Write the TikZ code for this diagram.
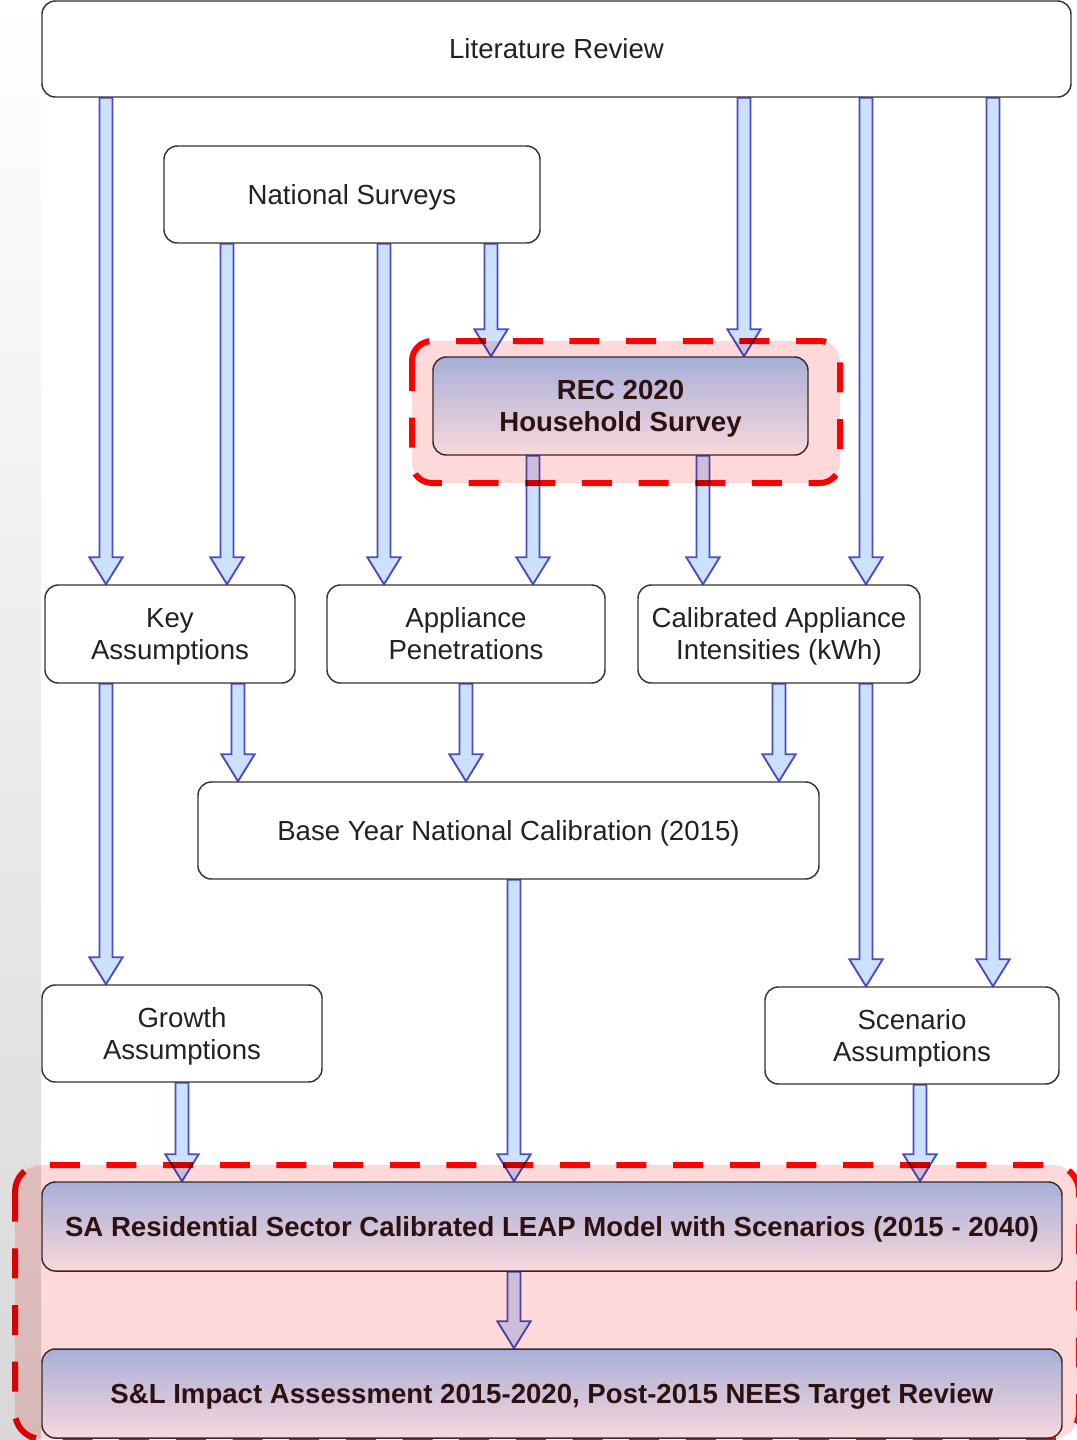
\documentclass[tikz,border=0pt]{standalone}
\usepackage{fontspec}
\setmainfont{Liberation Sans}
\usetikzlibrary{calc}
\definecolor{arrfill}{HTML}{CCE0FF}
\definecolor{arrdraw}{HTML}{4B4BC8}
\definecolor{boxline}{HTML}{333333}
\definecolor{txt}{HTML}{222222}
\definecolor{gtop}{HTML}{A7AFD8}
\definecolor{gbot}{HTML}{F9D8DC}
\definecolor{gline}{HTML}{3A2828}
\definecolor{gtxt}{HTML}{2E1010}
\definecolor{regfill}{HTML}{FFD9D9}
\definecolor{regline}{HTML}{FF0000}
\definecolor{leftgray}{HTML}{D8D8D8}
\pgfdeclarelayer{bglayer}
\pgfdeclarelayer{arrlayer}
\pgfdeclarelayer{reglayer}
\pgfsetlayers{bglayer,arrlayer,reglayer,main}
% line strut with the font's ascent/descent
\newcommand\lnstrut{\rule[-0.212em]{0pt}{1.117em}}
% #1 = x position (px), #2 = source node, #3 = target node
\newcommand\fatarr[3]{%
  \path[fatarrow] let \p1=(#1,0), \p2=(#2.south), \p3=(#3.north) in
   (\x1-4.875pt,\y2) -- (\x1-4.875pt,\y3+20.25pt) -- (\x1-12.5pt,\y3+20.25pt)
   -- (\x1,\y3) -- (\x1+12.5pt,\y3+20.25pt) -- (\x1+4.875pt,\y3+20.25pt)
   -- (\x1+4.875pt,\y2) -- cycle;}
\begin{document}
\begin{tikzpicture}[x=0.75pt,y=-0.75pt,
  plainbox/.style={draw=boxline, line width=1.1pt, rounded corners=10pt, fill=white,
    text=txt, align=center, inner sep=0pt, font=\fontsize{20.7}{24}\selectfont},
  gradbox/.style={draw=gline, line width=1.1pt, rounded corners=10pt,
    top color=gtop, bottom color=gbot, text=gtxt, align=center, inner sep=0pt,
    font=\bfseries\fontsize{20.7}{24}\selectfont},
  fatarrow/.style={draw=arrdraw, fill=arrfill, line width=1.4pt, line join=miter},
  region/.style={draw=regline, fill=regfill, line width=4.5pt,
    dash pattern=on 22.5pt off 20pt, blend mode=multiply}]
\useasboundingbox (0,0) rectangle (1076,1440);
\begin{pgfonlayer}{bglayer}
  \fill[white] (0,0) rectangle (1076,1440);
  \fill[top color=white, bottom color=leftgray] (0,0) rectangle (41,1440);
\end{pgfonlayer}

% boxes
\node[plainbox, minimum width=771.75pt, minimum height=72pt] (lit) at (556.5,49) {\lnstrut Literature Review};
\node[plainbox, minimum width=282pt, minimum height=72.75pt] (nat) at (352,194.5) {\lnstrut National Surveys};
\node[gradbox, minimum width=281.25pt, minimum height=73.5pt] (rec) at (620.5,406) {\lnstrut REC 2020\\\lnstrut Household Survey};
\node[plainbox, minimum width=187.5pt, minimum height=73.5pt] (key) at (170,634) {\lnstrut Key\\\lnstrut Assumptions};
\node[plainbox, minimum width=208.5pt, minimum height=73.5pt] (app) at (466,634) {\lnstrut Appliance\\\lnstrut Penetrations};
\node[plainbox, minimum width=211.5pt, minimum height=73.5pt] (cal) at (779,634) {\lnstrut Calibrated Appliance\\\lnstrut Intensities (kWh)};
\node[plainbox, minimum width=465.75pt, minimum height=72.75pt] (base) at (508.5,830.5) {\lnstrut Base Year National Calibration (2015)};
\node[plainbox, minimum width=210pt, minimum height=72.75pt] (grow) at (182,1033.5) {\lnstrut Growth\\\lnstrut Assumptions};
\node[plainbox, minimum width=220.5pt, minimum height=72.75pt] (scen) at (912,1035.5) {\lnstrut Scenario\\\lnstrut Assumptions};
\node[gradbox, minimum width=765pt, minimum height=66.75pt] (sa) at (552,1226.5) {\lnstrut SA Residential Sector Calibrated LEAP Model with Scenarios (2015 - 2040)};
\node[gradbox, minimum width=765pt, minimum height=66.75pt] (sl) at (552,1393.5) {\lnstrut S\&L Impact Assessment 2015-2020, Post-2015 NEES Target Review};

% arrows
\begin{pgfonlayer}{arrlayer}
\fatarr{106}{lit}{key}
\fatarr{227}{nat}{key}
\fatarr{384}{nat}{app}
\fatarr{491}{nat}{rec}
\fatarr{744}{lit}{rec}
\fatarr{866}{lit}{cal}
\fatarr{993}{lit}{scen}
\fatarr{533}{rec}{app}
\fatarr{703}{rec}{cal}
\fatarr{106}{key}{grow}
\fatarr{238}{key}{base}
\fatarr{466}{app}{base}
\fatarr{779}{cal}{base}
\fatarr{866}{cal}{scen}
\fatarr{514}{base}{sa}
\fatarr{182}{grow}{sa}
\fatarr{920}{scen}{sa}
\fatarr{514}{sa}{sl}
\end{pgfonlayer}

% highlight regions
\begin{pgfonlayer}{reglayer}
\draw[region, rounded corners=15pt] (412,341) rectangle (840,483);
\draw[region, rounded corners=20pt] (15,1165) rectangle (1079,1439);
\end{pgfonlayer}
\end{tikzpicture}
\end{document}
